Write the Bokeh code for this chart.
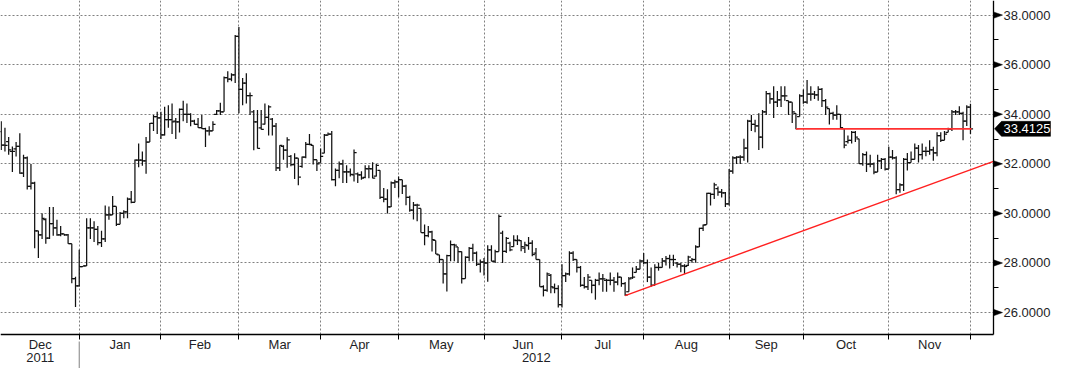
from bokeh.plotting import figure
from bokeh.models import (Range1d, LinearAxis, FixedTicker, ColumnDataSource,
                          PrintfTickFormatter, Grid)
from bokeh.core.properties import value
from bokeh.embed import file_html
from bokeh.resources import INLINE

# ---------------- data (one bar per weekday, Dec 2011 - early Dec 2012) ----------------
opens = [
    33.30, 32.76, 32.90, 32.50, 32.60, 32.70, 31.63, 32.24, 31.09, 31.22,
    29.30, 29.13, 29.75, 29.00, 29.59, 29.42, 29.13, 29.17, 29.13, 28.78,
    27.37, 27.08, 27.85, 27.88, 29.42, 29.42, 29.36, 28.82, 28.97, 29.94,
    29.94, 30.28, 29.56, 30.00, 30.06, 30.58, 30.45, 32.15, 32.15, 32.12,
    32.88, 33.63, 33.91, 33.85, 33.17, 33.78, 33.78, 33.72, 33.69, 34.20,
    34.00, 34.00, 33.72, 33.59, 33.46, 33.42, 33.33, 33.33, 34.00, 34.14,
    34.10, 35.48, 35.42, 35.59, 37.14, 35.00, 35.26, 34.75, 34.10, 33.69,
    33.45, 33.60, 33.87, 33.80, 33.52, 31.84, 32.70, 32.55, 32.30, 31.97,
    32.23, 31.90, 32.27, 32.79, 32.75, 32.17, 32.04, 32.43, 33.16, 33.20,
    31.36, 31.74, 32.00, 31.68, 31.68, 31.55, 31.60, 31.55, 31.45, 31.80,
    31.80, 31.50, 31.74, 30.65, 30.58, 30.26, 31.23, 31.27, 31.36, 31.10,
    30.65, 30.13, 30.33, 30.20, 29.23, 29.10, 29.26, 28.91, 28.33, 28.14,
    27.56, 28.30, 28.74, 28.65, 28.46, 27.37, 28.23, 28.59, 28.40, 27.95,
    28.04, 28.00, 28.53, 28.07, 28.46, 29.20, 28.47, 28.80, 28.66, 28.90,
    28.90, 28.60, 28.70, 28.80, 28.40, 28.14, 27.05, 26.90, 27.50, 27.00,
    26.97, 26.32, 27.49, 27.56, 28.40, 28.14, 27.82, 27.10, 27.04, 27.30,
    27.10, 27.30, 27.36, 27.30, 27.30, 27.30, 27.23, 27.43, 27.17, 26.84,
    27.40, 27.62, 27.75, 28.08, 28.01, 27.43, 27.10, 27.82, 27.82, 28.08,
    28.18, 28.14, 28.00, 27.95, 27.88, 27.90, 28.10, 28.14, 28.65, 29.40,
    29.55, 30.81, 30.77, 31.00, 30.86, 30.83, 30.38, 31.71, 32.24, 32.27,
    32.27, 32.63, 33.72, 33.59, 33.53, 33.08, 34.10, 34.83, 34.62, 34.49,
    34.58, 34.74, 34.55, 34.49, 34.04, 33.91, 34.74, 34.49, 34.81, 34.81,
    34.78, 35.00, 34.55, 34.23, 34.04, 33.97, 34.00, 33.42, 32.90, 32.95,
    33.27, 33.01, 32.01, 32.37, 31.99, 32.00, 31.67, 32.12, 32.18, 31.79,
    32.27, 32.24, 30.96, 31.15, 32.18, 32.05, 32.18, 32.63, 32.37, 32.50,
    32.50, 32.56, 32.44, 33.14, 32.95, 33.27, 33.40, 34.10, 34.10, 34.04,
    33.72, 34.29,
]
highs = [
    33.72, 33.46, 33.08, 32.70, 32.88, 33.23, 32.37, 32.30, 31.99, 31.28,
    29.30, 30.00, 29.80, 30.26, 30.26, 29.74, 29.49, 29.17, 29.17, 28.78,
    27.44, 28.53, 27.88, 29.80, 29.80, 29.68, 29.49, 29.30, 30.32, 30.28,
    30.70, 30.28, 30.06, 30.13, 30.64, 30.90, 32.18, 32.82, 32.50, 33.08,
    33.65, 33.97, 34.10, 34.10, 34.30, 34.36, 34.43, 33.85, 34.23, 34.55,
    34.43, 34.04, 33.78, 33.85, 33.97, 33.46, 33.52, 33.72, 34.17, 34.46,
    35.52, 35.74, 35.65, 37.20, 37.52, 35.46, 35.65, 34.88, 34.17, 34.17,
    34.17, 34.43, 34.36, 33.85, 33.65, 32.75, 32.75, 33.07, 32.36, 32.43,
    32.23, 32.30, 32.88, 33.20, 32.75, 32.17, 32.62, 33.20, 33.26, 33.33,
    31.81, 32.09, 32.17, 31.94, 31.81, 32.58, 31.65, 31.70, 31.94, 31.94,
    32.06, 32.00, 31.74, 31.03, 30.97, 31.29, 31.36, 31.49, 31.36, 31.16,
    30.71, 30.46, 30.39, 30.20, 29.55, 29.49, 29.30, 28.91, 28.33, 28.14,
    28.33, 28.91, 28.78, 28.65, 28.46, 28.27, 28.65, 28.78, 28.46, 28.14,
    28.20, 28.72, 28.72, 28.53, 29.96, 29.30, 29.05, 28.86, 29.12, 29.12,
    28.92, 28.86, 29.05, 28.92, 28.60, 28.14, 27.10, 27.62, 27.56, 27.17,
    27.10, 27.95, 27.62, 28.47, 28.47, 28.14, 27.88, 27.43, 27.56, 27.30,
    27.36, 27.62, 27.56, 27.36, 27.62, 27.43, 27.62, 27.43, 27.23, 27.43,
    27.82, 27.88, 28.14, 28.40, 28.14, 27.82, 27.95, 28.01, 28.20, 28.28,
    28.33, 28.33, 28.04, 28.01, 27.95, 28.29, 28.20, 28.72, 29.42, 29.55,
    30.83, 30.83, 31.24, 31.09, 30.99, 30.86, 31.79, 32.31, 32.31, 32.35,
    33.01, 33.78, 33.97, 33.78, 34.04, 34.17, 34.94, 34.87, 35.13, 34.94,
    35.13, 35.13, 34.55, 34.49, 34.04, 34.81, 35.00, 35.38, 35.13, 34.94,
    35.13, 35.06, 34.62, 34.23, 34.10, 34.36, 34.00, 33.42, 33.14, 33.33,
    33.33, 33.01, 32.44, 32.50, 32.37, 32.05, 32.37, 32.24, 32.24, 32.69,
    32.56, 32.31, 31.22, 32.24, 32.44, 32.50, 32.82, 32.76, 32.82, 32.69,
    32.95, 32.69, 33.27, 33.27, 33.33, 33.46, 34.17, 34.17, 34.32, 34.10,
    34.36, 34.42,
]
lows = [
    32.56, 32.50, 32.37, 31.67, 32.30, 31.60, 31.47, 30.96, 30.96, 28.59,
    28.20, 28.97, 28.78, 28.97, 29.10, 29.10, 29.08, 29.10, 28.78, 27.18,
    26.22, 27.05, 27.85, 27.88, 28.97, 28.85, 28.72, 28.65, 28.85, 29.74,
    29.94, 29.49, 29.56, 29.80, 29.80, 30.41, 30.45, 31.86, 31.92, 31.60,
    32.88, 33.33, 33.20, 33.00, 33.14, 33.46, 33.20, 33.00, 33.26, 33.72,
    33.65, 33.52, 33.59, 33.46, 33.42, 32.68, 33.14, 33.33, 33.97, 33.97,
    34.10, 35.29, 35.33, 35.26, 34.04, 34.36, 34.43, 33.97, 32.55, 32.62,
    33.39, 33.59, 33.14, 33.14, 31.71, 31.71, 32.17, 31.84, 31.90, 31.39,
    31.14, 31.84, 32.23, 32.75, 31.97, 31.71, 32.04, 32.43, 33.14, 31.33,
    31.10, 31.42, 31.23, 31.23, 31.49, 31.29, 31.23, 31.36, 31.42, 31.42,
    31.42, 31.49, 30.58, 30.45, 30.00, 30.26, 31.03, 30.65, 30.78, 30.33,
    30.07, 29.75, 29.68, 29.23, 28.72, 29.04, 28.46, 28.36, 28.00, 27.17,
    26.85, 28.07, 28.07, 28.00, 27.17, 27.37, 28.07, 28.07, 27.88, 27.62,
    27.50, 27.24, 28.07, 28.00, 28.46, 28.00, 28.40, 28.47, 28.66, 28.73,
    28.47, 28.40, 28.53, 28.27, 28.14, 27.04, 26.65, 26.84, 26.78, 26.78,
    26.20, 26.20, 27.23, 27.49, 28.08, 27.62, 27.04, 26.97, 26.91, 26.78,
    26.52, 27.10, 26.84, 26.84, 27.10, 26.84, 27.10, 27.04, 26.68, 26.84,
    27.36, 27.62, 27.75, 27.95, 27.23, 27.04, 27.10, 27.69, 27.82, 27.90,
    27.78, 27.88, 27.82, 27.63, 27.56, 27.88, 28.01, 28.01, 28.65, 29.29,
    29.55, 30.32, 30.58, 30.71, 30.64, 30.26, 30.32, 31.60, 31.99, 31.99,
    32.12, 32.05, 33.33, 33.27, 32.56, 32.63, 33.97, 34.42, 33.85, 34.29,
    34.29, 34.55, 33.97, 33.65, 33.40, 33.91, 34.42, 34.42, 34.55, 34.62,
    34.55, 34.29, 33.97, 33.59, 33.78, 33.78, 33.42, 32.63, 32.82, 32.82,
    32.88, 31.99, 31.92, 31.67, 31.86, 31.58, 31.67, 31.79, 31.73, 31.79,
    32.18, 30.77, 30.83, 30.90, 31.73, 32.05, 32.18, 32.05, 32.18, 32.31,
    32.37, 32.12, 32.31, 32.88, 32.95, 33.27, 33.33, 33.97, 33.97, 32.95,
    33.53, 33.20,
]
closes = [
    32.76, 32.75, 32.56, 32.50, 32.70, 31.63, 32.24, 31.09, 31.22, 29.30,
    29.13, 29.80, 29.00, 29.59, 29.42, 29.13, 29.17, 29.13, 28.78, 27.37,
    27.08, 27.85, 27.88, 29.42, 29.42, 29.36, 28.82, 28.97, 29.94, 29.94,
    30.28, 29.56, 30.00, 30.06, 30.58, 30.45, 32.15, 32.15, 32.12, 32.88,
    33.63, 33.91, 33.85, 33.17, 33.78, 33.78, 33.69, 33.69, 34.20, 34.00,
    34.00, 33.72, 33.59, 33.46, 33.42, 33.33, 33.33, 33.59, 34.14, 34.10,
    35.48, 35.42, 35.59, 37.14, 35.00, 35.26, 34.75, 34.75, 33.69, 32.62,
    33.39, 33.87, 34.30, 33.52, 31.84, 32.75, 32.55, 32.97, 31.97, 32.23,
    31.46, 32.27, 32.79, 32.79, 32.17, 32.00, 32.30, 33.16, 33.20, 31.36,
    31.74, 32.00, 31.68, 31.68, 31.58, 32.45, 31.55, 31.42, 31.81, 31.81,
    31.42, 31.94, 30.65, 30.58, 30.26, 31.23, 31.27, 31.36, 31.10, 30.65,
    30.13, 30.33, 30.33, 29.23, 29.10, 29.26, 28.94, 28.36, 28.14, 27.56,
    28.30, 28.74, 28.72, 28.46, 27.37, 28.23, 28.59, 28.40, 27.95, 28.04,
    28.00, 28.53, 28.07, 28.46, 29.88, 28.47, 28.99, 28.53, 28.92, 28.92,
    28.66, 28.73, 28.79, 28.34, 28.14, 27.04, 26.90, 27.56, 27.04, 26.97,
    26.32, 27.49, 27.56, 28.40, 28.14, 27.82, 27.10, 27.04, 27.43, 27.10,
    27.30, 27.36, 27.36, 27.30, 27.30, 27.23, 27.43, 27.17, 26.71, 27.36,
    27.43, 27.75, 28.08, 28.01, 27.43, 27.10, 27.82, 27.82, 28.08, 28.18,
    28.14, 28.14, 27.95, 27.88, 27.86, 28.24, 28.14, 28.65, 29.40, 29.53,
    30.81, 30.77, 31.15, 30.86, 30.83, 30.38, 31.71, 32.24, 32.27, 32.27,
    32.63, 33.72, 33.59, 33.53, 33.08, 34.10, 34.83, 34.62, 34.49, 34.58,
    34.74, 34.74, 34.49, 34.10, 33.42, 34.74, 34.49, 34.81, 34.81, 34.78,
    35.00, 34.55, 34.29, 34.04, 33.97, 34.00, 33.46, 32.76, 32.95, 33.27,
    33.08, 32.01, 32.37, 31.99, 31.99, 31.67, 32.12, 32.18, 31.79, 32.27,
    32.24, 30.96, 31.15, 32.18, 32.05, 32.18, 32.63, 32.37, 32.50, 32.50,
    32.56, 32.44, 33.14, 32.95, 33.20, 33.40, 34.10, 34.10, 34.04, 33.72,
    34.29, 33.4125,
]

month_names = ["Dec", "Jan", "Feb", "Mar", "Apr", "May", "Jun", "Jul", "Aug", "Sep", "Oct", "Nov"]
month_first_bar = [0, 21, 43, 64, 86, 107, 130, 151, 173, 196, 216, 239, 261]
year_names = ["2011", "2012"]
price_ticks = [26, 28, 30, 32, 34, 36, 38]
price_minor = [27, 29, 31, 33, 35, 37]
last_price = 33.4125
trend_x = [168, 267.2]
trend_y = [26.68, 32.10]
level_x = [214, 261.3]
level_y = [33.4125, 33.4125]

# ---------------- layout ----------------
X0, X1 = -0.2, 267.2          # chart area (bars)
Y0, Y1 = 25.115, 38.59
W, H = 1052, 368
CW, CH = 993, 334             # chart area in px; right/bottom strips hold the axes
PPX = CW / (X1 - X0)
PPY = CH / (Y1 - Y0)
XE = X0 + W / PPX
YE = Y1 - H / PPY
FONT = "Liberation Sans"
TXT = "#1e1e26"

p = figure(width=W, height=H, x_range=Range1d(X0, XE), y_range=Range1d(YE, Y1),
           x_axis_location=None, y_axis_location=None, toolbar_location=None,
           output_backend="svg", min_border=0)
p.outline_line_color = None
p.background_fill_color = "white"
p.border_fill_color = "white"

boundaries = month_first_bar[1:]
centers = [(a + b) / 2 for a, b in zip(month_first_bar[:-1], month_first_bar[1:])]
year_centers = [centers[0], (month_first_bar[1] + X1) / 2]

p.center = []
gx = Grid(dimension=0, ticker=FixedTicker(ticks=boundaries), cross_bounds=(Y0, Y1))
gy = Grid(dimension=1, ticker=FixedTicker(ticks=price_ticks), cross_bounds=(X0, X1))
for g in (gx, gy):
    g.grid_line_color = "#808080"
    g.grid_line_dash = "2 2"
    g.grid_line_width = 1
    p.add_layout(g, "center")

# ---------------- OHLC bars ----------------
idx = list(range(len(closes)))
src = ColumnDataSource(dict(x=idx, o=opens, h=highs, l=lows, c=closes,
                            xl=[i - 0.7 for i in idx], xr=[i + 0.7 for i in idx]))
p.segment(x0="x", y0="l", x1="x", y1="h", source=src, line_color="#111111", line_width=1.25)
p.segment(x0="xl", y0="o", x1="x", y1="o", source=src, line_color="#111111", line_width=1.25)
p.segment(x0="x", y0="c", x1="xr", y1="c", source=src, line_color="#111111", line_width=1.25)

# ---------------- red lines ----------------
p.line(trend_x, trend_y, line_color="#ff2020", line_width=1.4)
p.line(level_x, level_y, line_color="#ff3030", line_width=1.6)

# ---------------- axes (fixed at the chart edges) ----------------
yax = LinearAxis(ticker=FixedTicker(ticks=price_ticks, minor_ticks=price_minor),
                 formatter=PrintfTickFormatter(format="%.4f"),
                 fixed_location=X1, bounds=(Y0, Y1))
yax.axis_line_color = "black"
yax.axis_line_width = 1.3
yax.major_tick_in = 0
yax.major_tick_out = 8
yax.major_tick_line_color = None
yax.minor_tick_in = 0
yax.minor_tick_out = 5
yax.minor_tick_line_color = "black"
yax.major_label_standoff = 2
yax.major_label_text_font = FONT
yax.major_label_text_font_size = "13px"
yax.major_label_text_color = TXT
p.add_layout(yax, "right")

xax = LinearAxis(ticker=FixedTicker(ticks=centers, minor_ticks=boundaries),
                 major_label_overrides={c: n for c, n in zip(centers, month_names)},
                 fixed_location=Y0, bounds=(X0, X1))
xax.axis_line_color = "black"
xax.axis_line_width = 1.3
xax.major_tick_in = 0
xax.major_tick_out = 0
xax.major_tick_line_color = None
xax.minor_tick_in = 0
xax.minor_tick_out = 5
xax.minor_tick_line_color = "black"
xax.major_label_standoff = -3
xax.major_label_text_font = FONT
xax.major_label_text_font_size = "13px"
xax.major_label_text_color = TXT
p.add_layout(xax, "below")

yrax = LinearAxis(ticker=FixedTicker(ticks=year_centers, minor_ticks=[]),
                  major_label_overrides={c: n for c, n in zip(year_centers, year_names)},
                  fixed_location=Y0 - 18 / PPY, bounds=(X0, X1))
yrax.axis_line_color = None
yrax.major_tick_in = 0
yrax.major_tick_out = 0
yrax.major_tick_line_color = None
yrax.minor_tick_in = 0
yrax.minor_tick_out = 0
yrax.minor_tick_line_color = None
yrax.major_label_standoff = 0
yrax.major_label_text_font = FONT
yrax.major_label_text_font_size = "13px"
yrax.major_label_text_color = TXT
p.add_layout(yrax, "below")

# year separator below the axis at the first bar of 2012
p.segment(x0=[month_first_bar[1]], y0=[Y0 - 7 / PPY], x1=[month_first_bar[1]], y1=[YE],
          line_color="#808080", line_width=1)

# ---------------- axis pointers and last-price box ----------------
p.patches(xs=[[X1, X1 + 9 / PPX, X1] for v in price_ticks],
          ys=[[v + 3.2 / PPY, v, v - 3.2 / PPY] for v in price_ticks],
          fill_color="black", line_color="black", line_width=0.5)

p.patch(x=[X1 + 1 / PPX, X1 + 8 / PPX, X1 + 57 / PPX, X1 + 57 / PPX, X1 + 8 / PPX],
        y=[last_price, last_price + 7.5 / PPY, last_price + 7.5 / PPY,
           last_price - 7.5 / PPY, last_price - 7.5 / PPY],
        fill_color="black", line_color="black", line_width=0.5)
p.text(x=[X1 + 10 / PPX], y=[last_price], text=[f"{last_price:.4f}"],
       text_color="white", text_font=value(FONT), text_font_size="13px",
       text_baseline="middle", text_align="left")

open("out.html", "w").write(file_html(p, INLINE))
